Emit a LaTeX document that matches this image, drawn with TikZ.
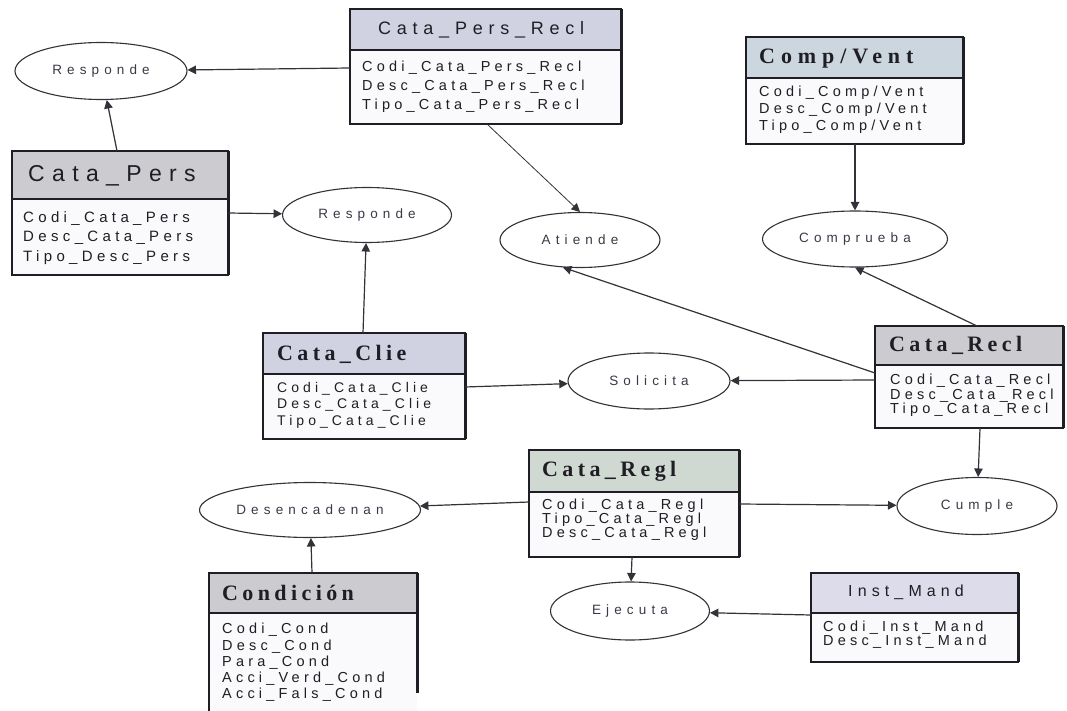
\documentclass[tikz,border=0pt]{standalone}
\usepackage{fontspec}
\usetikzlibrary{shapes.geometric,arrows.meta,calc}
\setmainfont{Liberation Sans}
% spaced-out faces used by the modelling tool
\newfontfamily\fldfont[LetterSpace=29]{Liberation Sans}
\newfontfamily\relfont[LetterSpace=38]{Liberation Sans}
\newfontfamily\ttlsansfont[LetterSpace=32]{Liberation Sans}
\newfontfamily\ttlseriffont[LetterSpace=20]{Liberation Serif}
\newfontfamily\ttlserifwide[LetterSpace=27]{Liberation Serif}

\definecolor{ink}{RGB}{30,30,36}
\definecolor{wire}{RGB}{50,50,56}
\definecolor{relink}{RGB}{62,55,70}
\definecolor{body}{RGB}{250,250,253}
\definecolor{hdrlav}{RGB}{208,210,226}
\definecolor{hdrgray}{RGB}{204,203,207}
\definecolor{hdrteal}{RGB}{204,214,222}
\definecolor{hdrgreen}{RGB}{208,216,210}
\definecolor{hdrlight}{RGB}{220,220,234}

% entity: name, x, y, width, height, header height, header colour
\newcommand\entity[7]{%
  \node[entnode, minimum width=#4pt, minimum height=#5pt] (#1) at (#2,#3) {};
  \fill[#7] (#1.north west) rectangle ($(#1.north east)+(0,#6)$);
  \draw[frame] ($(#1.north west)+(0,#6)$) -- ($(#1.north east)+(0,#6)$);
}
\newcommand\entframe[1]{%
  \draw[frame] (#1.north west) rectangle (#1.south east);
  \draw[edge] (#1.north east) -- (#1.south east);
}

\begin{document}
\begin{tikzpicture}[x=1pt,y=-1pt,
  entnode/.style={inner sep=0pt, outer sep=0pt, anchor=north west, fill=body},
  frame/.style={draw=ink, line width=1.4pt},
  edge/.style={draw=ink, line width=3pt},
  rel/.style={ellipse, draw=wire, line width=1.1pt, inner sep=0pt, fill=white,
    text=relink, font=\relfont\fontsize{13.5}{15}\selectfont},
  ttlsans/.style={inner sep=0pt, anchor=base west, text=ink},
  ttlserif/.style={inner sep=0pt, anchor=base west, text=ink},
  fields/.style={inner sep=0pt, anchor=north west, align=left, text=ink},
  link/.style={draw=wire, line width=1.2pt, -{Triangle[length=8.5pt,width=8.5pt]}},
  thinlink/.style={draw=wire, line width=0.8pt, -{Triangle[length=8.5pt,width=8.5pt]}}]

\fill[white] (0,0) rectangle (1067,711);
\useasboundingbox (0,0) rectangle (1067,711);

% ---- relationships
\node[rel, minimum width=172pt, minimum height=57pt] (r1) at (101,71) {Responde};
\node[rel, minimum width=169pt, minimum height=55pt] (r2) at (367,215) {Responde};
\node[rel, minimum width=160pt, minimum height=55pt] (at) at (580,240) {Atiende};
\node[rel, minimum width=185pt, minimum height=56pt] (cb) at (855,239) {Comprueba};
\node[rel, minimum width=162pt, minimum height=56pt] (so) at (649,381) {Solicita};
\node[rel, minimum width=160pt, minimum height=57pt] (cu) at (977,506) {Cumple};
\node[rel, minimum width=221pt, minimum height=55pt] (de) at (310,510) {Desencadenan};
\node[rel, minimum width=159pt, minimum height=58pt] (ej) at (630,611) {Ejecuta};

% ---- entities
\entity{cpr}{350}{9}{271}{115}{41}{hdrlav}
\entity{cp}{12}{151}{216}{124}{48}{hdrgray}
\entity{cv}{746}{37}{217}{107}{41}{hdrteal}
\entity{cc}{263}{333}{202}{106}{41}{hdrlav}
\entity{cr}{875}{326}{188}{102}{39}{hdrgray}
\entity{cg}{529}{450}{210}{107}{42}{hdrgreen}
\entity{co}{209}{573}{208}{140}{40}{hdrgray}
\entity{im}{811}{573}{207}{89}{40}{hdrlight}

\entframe{cpr}
\entframe{cp}
\entframe{cv}
\entframe{cc}
\entframe{cr}
\entframe{cg}
\entframe{im}
\draw[frame] (co.south west) -- (co.north west) -- (co.north east) -- ($(co.north east)+(0,120)$);
\draw[edge] (co.north east) -- ($(co.north east)+(0,120)$);

% ---- entity titles
\node[ttlsans, font=\ttlsansfont\fontsize{18}{20}\selectfont] (cpr-t) at (378,35) {Cata\_Pers\_Recl};
\node[ttlsans, font=\ttlsansfont\fontsize{23}{25}\selectfont] (cp-t) at (28,182) {Cata\_Pers};
\node[ttlserif, font=\ttlserifwide\bfseries\fontsize{22}{24}\selectfont] (cv-t) at (759,64) {Comp/Vent};
\node[ttlserif, font=\ttlseriffont\bfseries\fontsize{22}{24}\selectfont] (cc-t) at (277,360) {Cata\_Clie};
\node[ttlserif, font=\ttlseriffont\bfseries\fontsize{22}{24}\selectfont] (cr-t) at (889,351.5) {Cata\_Recl};
\node[ttlserif, font=\ttlseriffont\bfseries\fontsize{22}{24}\selectfont] (cg-t) at (542,476.5) {Cata\_Regl};
\node[ttlserif, font=\ttlseriffont\bfseries\fontsize{22}{24}\selectfont] (co-t) at (222,600.5) {Condición};
\node[ttlsans, font=\ttlsansfont\fontsize{16}{18}\selectfont] (im-t) at (848,596.5) {Inst\_Mand};

% ---- attributes
\node[fields, font=\fldfont\fontsize{14.5}{19}\selectfont] (cpr-f) at (362,61)
  {Codi\_Cata\_Pers\_Recl\\Desc\_Cata\_Pers\_Recl\\Tipo\_Cata\_Pers\_Recl};
\node[fields, font=\fldfont\fontsize{15}{19.5}\selectfont] (cp-f) at (23,211)
  {Codi\_Cata\_Pers\\Desc\_Cata\_Pers\\Tipo\_Desc\_Pers};
\node[fields, font=\fldfont\fontsize{14.5}{17}\selectfont] (cv-f) at (759,86)
  {Codi\_Comp/Vent\\Desc\_Comp/Vent\\Tipo\_Comp/Vent};
\node[fields, font=\fldfont\fontsize{14}{16.5}\selectfont] (cc-f) at (277,382)
  {Codi\_Cata\_Clie\\Desc\_Cata\_Clie\\Tipo\_Cata\_Clie};
\node[fields, font=\fldfont\fontsize{14.5}{14.5}\selectfont] (cr-f) at (890,374)
  {Codi\_Cata\_Recl\\Desc\_Cata\_Recl\\Tipo\_Cata\_Recl};
\node[fields, font=\fldfont\fontsize{14.5}{14}\selectfont] (cg-f) at (542,499)
  {Codi\_Cata\_Regl\\Tipo\_Cata\_Regl\\Desc\_Cata\_Regl};
\node[fields, font=\fldfont\fontsize{14.5}{16.3}\selectfont] (co-f) at (222,623)
  {Codi\_Cond\\Desc\_Cond\\Para\_Cond\\Acci\_Verd\_Cond\\Acci\_Fals\_Cond};
\node[fields, font=\fldfont\fontsize{14.5}{14}\selectfont] (im-f) at (823,621)
  {Codi\_Inst\_Mand\\Desc\_Inst\_Mand};

% ---- connectors
\draw[link] ($(cpr.north west)+(0,59)$) -- (r1);
\draw[link] ($(cp.north west)+(105,0)$) -- (r1);
\draw[link] ($(cp.north east)+(0,62)$) -- (r2);
\draw[link] ($(cc.north west)+(100,0)$) -- (r2);
\draw[thinlink] ($(cpr.south west)+(137,0)$) -- (at.north);
\draw[link] ($(cv.south west)+(109,0)$) -- (cb.north);
\draw[link] ($(cr.north west)+(0,47)$) -- (at.238);
\draw[link] ($(cr.north west)+(102,0)$) -- (cb.south);
\draw[link] ($(cc.north east)+(0,54)$) -- (so);
\draw[link] ($(cr.north west)+(0,54)$) -- (so);
\draw[link] ($(cr.south west)+(105,0)$) -- (cu);
\draw[link] ($(cg.north east)+(0,54)$) -- (cu);
\draw[link] ($(cg.north west)+(0,52)$) -- (de);
\draw[link] ($(co.north west)+(103,0)$) -- (de);
\draw[link] ($(cg.south west)+(103,0)$) -- (ej);
\draw[link] ($(im.north west)+(0,42)$) -- (ej);
\end{tikzpicture}
\end{document}
